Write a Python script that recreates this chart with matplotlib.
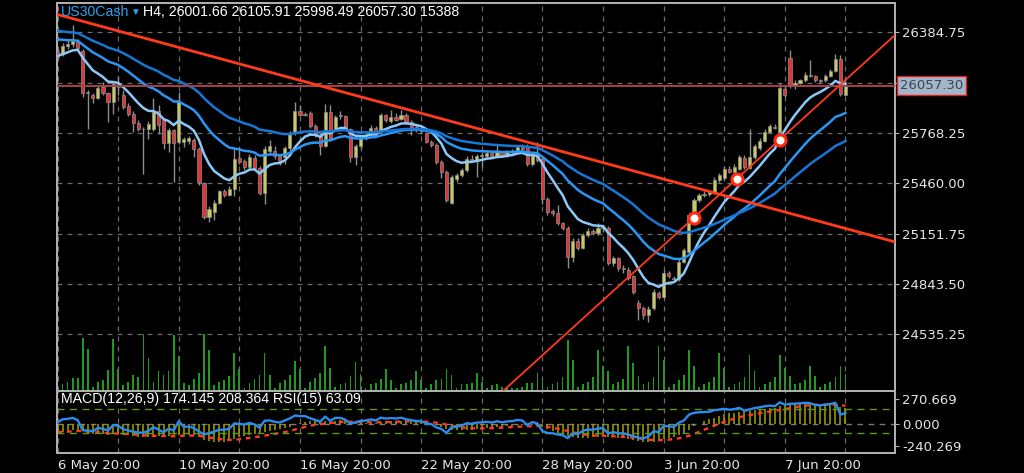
import matplotlib
matplotlib.use("Agg")
import matplotlib.pyplot as plt
import matplotlib.transforms as mtrans
import numpy as np

# US30Cash H4 candles, 6 May 20:00 .. 11 Jun (one bar per 4 hours)
opens = [
    26265, 26250, 26300, 26310, 26330, 26270, 26020, 26000, 25985, 26050,
    26010, 25955, 26070, 26000, 25935, 25885, 25830, 25795, 25790, 25795,
    25900, 25845, 25705, 25785, 25710, 25710, 25720, 25725, 25670, 25460,
    25255, 25285, 25340, 25410, 25390, 25425, 25615, 25595, 25560, 25615,
    25555, 25400, 25660, 25655, 25625, 25620, 25675, 25765, 25900, 25885,
    25890, 25810, 25755, 25685, 25895, 25795, 25880, 25870, 25790, 25620,
    25685, 25735, 25765, 25800, 25785, 25875, 25840, 25865, 25855, 25880,
    25835, 25805, 25785, 25765, 25715, 25695, 25590, 25530, 25340, 25485,
    25510, 25540, 25610, 25595, 25625, 25625, 25645, 25625, 25650, 25630,
    25650, 25655, 25680, 25680, 25575, 25630, 25610, 25365, 25290, 25280,
    25215, 25185, 25010, 25105, 25065, 25140, 25170, 25155, 25185, 25185,
    24970, 25000, 24940, 24930, 24890, 24725, 24695, 24655, 24695, 24785,
    24765, 24910, 24880, 24870, 24980, 25040, 25265, 25355, 25385, 25395,
    25405, 25480, 25490, 25550, 25530, 25550, 25615, 25555, 25620, 25675,
    25720, 25775, 25805, 25775, 26040, 26230, 26055, 26075, 26090, 26125,
    26115, 26090, 26090, 26120, 26150, 26220, 26001.66]
closes = [
    26235, 26300, 26310, 26330, 26290, 26015, 26010, 25980, 26045, 26015,
    25955, 26070, 26050, 25930, 25885, 25830, 25795, 25790, 25825, 25895,
    25815, 25705, 25785, 25705, 25965, 25730, 25735, 25670, 25470, 25255,
    25300, 25340, 25410, 25390, 25425, 25610, 25590, 25560, 25620, 25555,
    25400, 25670, 25685, 25625, 25595, 25675, 25765, 25900, 25880, 25880,
    25810, 25755, 25685, 25895, 25735, 25865, 25870, 25795, 25620, 25685,
    25735, 25755, 25800, 25760, 25875, 25845, 25865, 25850, 25880, 25835,
    25805, 25785, 25780, 25715, 25695, 25590, 25530, 25355, 25500, 25510,
    25540, 25610, 25595, 25625, 25630, 25645, 25625, 25655, 25630, 25650,
    25655, 25680, 25670, 25575, 25630, 25600, 25365, 25285, 25275, 25215,
    25185, 25010, 25105, 25065, 25140, 25170, 25155, 25185, 25190, 24970,
    25000, 24940, 24935, 24880, 24795, 24695, 24655, 24690, 24795, 24760,
    24910, 24890, 24870, 24980, 25050, 25265, 25355, 25385, 25395, 25405,
    25480, 25510, 25550, 25530, 25560, 25620, 25560, 25620, 25685, 25720,
    25775, 25810, 25800, 26045, 26000, 26055, 26075, 26090, 26125, 26120,
    26090, 26085, 26120, 26150, 26220, 26005, 26057.30]
highs = [
    26285, 26320, 26335, 26430, 26345, 26280, 26030, 26010, 26055, 26080,
    26020, 26085, 26120, 26030, 25950, 25900, 25845, 25805, 25840, 25980,
    25940, 25860, 25800, 25795, 26020, 25745, 25750, 25740, 25680, 25470,
    25320, 25355, 25420, 25425, 25440, 25675, 25680, 25610, 25640, 25630,
    25565, 25690, 25725, 25690, 25635, 25690, 25780, 25960, 25940, 25895,
    25900, 25820, 25765, 25945, 25940, 25875, 25905, 25880, 25800, 25700,
    25750, 25765, 25815, 25810, 25890, 25885, 25910, 25890, 25910, 25890,
    25845, 25815, 25800, 25775, 25725, 25705, 25600, 25540, 25510, 25525,
    25555, 25625, 25630, 25640, 25650, 25660, 25655, 25700, 25660, 25665,
    25670, 25695, 25700, 25700, 25640, 25715, 25620, 25375, 25300, 25325,
    25225, 25195, 25125, 25125, 25155, 25185, 25180, 25215, 25200, 25195,
    25015, 25010, 24960, 24945, 24900, 24745, 24710, 24710, 24810, 24800,
    24930, 24925, 24890, 24995, 25065, 25280, 25370, 25400, 25410, 25420,
    25495, 25525, 25565, 25565, 25575, 25635, 25630, 25795, 25700, 25735,
    25790, 25825, 25825, 26075, 26060, 26275, 26090, 26100, 26140, 26215,
    26125, 26100, 26130, 26160, 26250, 26245, 26105.91]
lows = [
    26220, 26240, 26280, 26295, 26270, 25990, 25795, 25950, 25975, 26000,
    25835, 25885, 26000, 25915, 25870, 25775, 25780, 25515, 25730, 25780,
    25760, 25670, 25650, 25470, 25700, 25680, 25700, 25620, 25450, 25240,
    25225, 25235, 25330, 25375, 25380, 25380, 25580, 25540, 25550, 25540,
    25385, 25335, 25640, 25610, 25570, 25580, 25660, 25755, 25870, 25870,
    25800, 25745, 25630, 25680, 25720, 25780, 25855, 25785, 25590, 25570,
    25670, 25725, 25750, 25750, 25770, 25835, 25830, 25840, 25845, 25820,
    25755, 25775, 25760, 25705, 25680, 25580, 25490, 25345, 25335, 25470,
    25500, 25530, 25590, 25500, 25560, 25615, 25615, 25615, 25620, 25620,
    25640, 25645, 25660, 25565, 25565, 25590, 25335, 25265, 25260, 25205,
    25175, 24940, 24980, 25050, 25055, 25130, 25145, 25140, 25160, 24960,
    24950, 24920, 24910, 24865, 24780, 24620, 24625, 24610, 24685, 24750,
    24755, 24880, 24860, 24860, 24970, 25030, 25255, 25345, 25375, 25380,
    25395, 25470, 25480, 25520, 25520, 25540, 25550, 25545, 25610, 25665,
    25710, 25765, 25790, 25765, 25990, 26045, 26040, 26065, 26080, 26110,
    26080, 26075, 26080, 26110, 26140, 25995, 25998.49]
volumes = [
    9000, 6000, 8400, 11400, 11400, 47100, 37500, 3600, 8400, 9600,
    18600, 45600, 19500, 5100, 8400, 14100, 12600, 50400, 29400, 8400,
    17400, 14100, 17400, 49500, 30600, 6900, 5100, 10500, 16200, 50400,
    36600, 5100, 8400, 9600, 13200, 33600, 19500, 2400, 6900, 10500,
    14100, 33600, 14100, 2400, 6900, 9600, 14100, 26400, 19500, 2400,
    8400, 11400, 16200, 40200, 20400, 3600, 6000, 6900, 12900, 25500,
    15000, 2400, 6000, 6900, 10500, 19500, 9600, 2400, 6000, 6900,
    9600, 17400, 9600, 2400, 6000, 9600, 10500, 19500, 14400, 2400,
    6000, 6000, 6900, 16200, 8400, 2400, 5100, 6000, 3600, 3600,
    3000, 2400, 3900, 7500, 7500, 16200, 11400, 3600, 6000, 8400,
    12000, 45000, 27000, 3600, 6000, 8400, 12000, 36000, 22000, 18000,
    6000, 8400, 10500, 40000, 25000, 13500, 6000, 8400, 12000, 40000,
    27000, 3600, 6000, 9600, 14000, 36000, 22000, 3600, 6000, 8400,
    12000, 34000, 20000, 3600, 6000, 8400, 12000, 31500, 18000, 3600,
    6000, 8400, 12000, 31500, 20000, 13500, 6000, 6900, 9600, 22500,
    13500, 3600, 6000, 8400, 12000, 22500, 15388]

date_bars = [0, 24, 48, 72, 96, 120, 144]
date_labels = ["6 May 20:00", "10 May 20:00", "16 May 20:00", "22 May 20:00",
               "28 May 20:00", "3 Jun 20:00", "7 Jun 20:00"]
price_ticks = [26384.75, 26076.50, 25768.25, 25460.00, 25151.75, 24843.50, 24535.25]
macd_ticks = [270.669, 0.0, -240.269]
bid = 26057.30

# trend lines (bar, price anchors)
down_t, down_p = [0, 96], [26494, 25687]
up_t, up_p = [126, 143], [25249, 25727]
up_marks = [126, 134.5, 143]

# moving average periods and starting values at the first bar
ma_periods = [10, 25, 45]
ma_seeds = [26240, 26342, 26394]
macd_seed12, macd_seed26, signal_seed = 26290, 26380, -85
rsi_seed_gain, rsi_seed_loss = 20.0, 22.0


def ema(values, period, seed):
    k = 2.0 / (period + 1)
    out = [seed]
    for v in values[1:]:
        out.append(out[-1] + k * (v - out[-1]))
    return np.array(out)


def rsi(values, period, g, l):
    out = [100 - 100 / (1 + g / l)]
    for i in range(1, len(values)):
        d = values[i] - values[i - 1]
        g = (g * (period - 1) + max(d, 0)) / period
        l = (l * (period - 1) + max(-d, 0)) / period
        out.append(100 - 100 / (1 + g / l))
    return np.array(out)


o = np.array(opens, float)
c = np.array(closes, float)
h = np.array(highs, float)
lo = np.array(lows, float)
x = np.arange(len(c))

macd = ema(c, 12, macd_seed12) - ema(c, 26, macd_seed26)
signal = ema(macd, 9, signal_seed)
rsi15 = rsi(c, 15, rsi_seed_gain, rsi_seed_loss)

W, H = 1024, 473
fig = plt.figure(figsize=(W / 100, H / 100), dpi=100, facecolor="black")
ax = fig.add_axes([57 / W, 1 - 391 / H, 838 / W, 388 / H])
axm = fig.add_axes([57 / W, 1 - 453 / H, 838 / W, 62 / H], sharex=ax)
axv = ax.twinx()
axr = axm.twinx()
ax.set_zorder(3)
axv.set_zorder(2)
ax.patch.set_visible(False)
axv.patch.set_facecolor("black")
axm.set_facecolor("black")

frame = "#b0b0b0"
grid_c = "#6a6a6a"
txt = "#e6e6e6"
for a in (ax, axm, axv, axr):
    for s in a.spines.values():
        s.set_color(frame)
        s.set_linewidth(1.3)

# volume
axv.bar(x, volumes, width=0.34, color="#1f9a1f", linewidth=0)
axv.set_ylim(0, max(volumes) * 388 / 57)
axv.set_yticks([])

# candles
bull = c >= o
ax.vlines(x, lo, h, color="#8e8e8e", lw=1, zorder=3)
ax.bar(x, np.maximum(np.abs(c - o), 5), bottom=np.minimum(o, c), width=0.62,
       color=np.where(bull, "#c9c95f", "#e03535"), edgecolor="#8e8e8e",
       linewidth=0.5, zorder=4)

# moving averages
for period, seed, col in zip(ma_periods, ma_seeds, ["#8cc8f8", "#2a96f5", "#1677d6"]):
    ax.plot(x, ema(c, period, seed), color=col, lw=1.8, zorder=5)

# bid line and trend lines
ax.axhline(bid, color="#a8404c", lw=1.4, zorder=5)
ax.axline((down_t[0], down_p[0]), (down_t[1], down_p[1]), color="#ff3b1c", lw=2, zorder=6)
ax.axline((up_t[0], up_p[0]), (up_t[1], up_p[1]), color="#ff3b1c", lw=1.3, zorder=6)
slope = (up_p[1] - up_p[0]) / (up_t[1] - up_t[0])
mark_p = [up_p[0] + slope * (t - up_t[0]) for t in up_marks]
ax.plot(up_marks, mark_p, "o", ms=8, mfc="white", mec="#ff2a10", mew=2.2, zorder=7)

ax.set_xlim(-0.1, 165.8)
ax.set_ylim(24186.6, 26564.3)
ax.yaxis.tick_right()
ax.set_yticks(price_ticks)
ax.set_yticklabels(["" if p == 26076.50 else f"{p:.2f}" for p in price_ticks])
ax.tick_params(axis="y", colors=frame, labelcolor=txt, labelsize=9.5, length=3, pad=2)
ax.tick_params(axis="x", length=0, labelbottom=False)
ax.grid(True, color=grid_c, ls=(0, (4, 4)), lw=0.9)

trans = mtrans.blended_transform_factory(ax.transAxes, ax.transData)
ax.text(1.006, bid, f"{bid:.2f}", transform=trans, fontsize=9.5, color="#3a4450",
        va="center", ha="left", zorder=10, clip_on=False,
        bbox=dict(boxstyle="square,pad=0.22", fc="#a3b5c8", ec="#e02020", lw=1))

# MACD + RSI panel
axm.vlines(x, 0, macd, color="#a2a200", lw=1.1, zorder=2)
axm.plot(x, signal, color="#ff3a20", lw=1.7, ls=(0, (2, 2)), zorder=3)
axm.axhline(0, color="#7a7a7a", lw=1, ls=(0, (4, 4)), zorder=1)
axm.set_ylim(-312, 355)
axm.yaxis.tick_right()
axm.set_yticks(macd_ticks)
axm.set_yticklabels([f"{v:.3f}" for v in macd_ticks])
axm.tick_params(axis="y", colors=frame, labelcolor=txt, labelsize=9.5, length=3, pad=2)

axr.plot(x, rsi15, color="#2a8cf0", lw=1.7, zorder=4)
for lvl in (70, 30):
    axr.axhline(lvl, color="#5a9a14", lw=1, ls=(0, (5, 4)))
axr.set_ylim(-3.3, 100)
axr.set_yticks([])

xt = list(range(0, 157, 12))
axm.set_xticks(xt)
axm.set_xticklabels([date_labels[date_bars.index(t)] if t in date_bars else "" for t in xt],
                    ha="left")
axm.tick_params(axis="x", colors=txt, labelsize=9.5, length=0, pad=4)
axm.grid(True, axis="x", color=grid_c, ls=(0, (4, 4)), lw=0.9)

# header texts
fam = ["Liberation Sans", "DejaVu Sans"]
fig.text(61 / W, 1 - 12 / H, "US30Cash", color="#2ea0f0", fontsize=10.2, family=fam, va="center")
fig.text(130 / W, 1 - 12 / H, "\u25bc", color="#2ea0f0", fontsize=7, family=fam, va="center")
fig.text(143 / W, 1 - 12 / H, "H4, 26001.66 26105.91 25998.49 26057.30 15388",
         color="white", fontsize=10.2, family=fam, va="center")
fig.text(61 / W, 1 - 399 / H, "MACD(12,26,9) 174.145 208.364 RSI(15) 63.09",
         color="white", fontsize=10.2, family=fam, va="center")

fig.savefig("out.png", dpi=100, facecolor="black")
